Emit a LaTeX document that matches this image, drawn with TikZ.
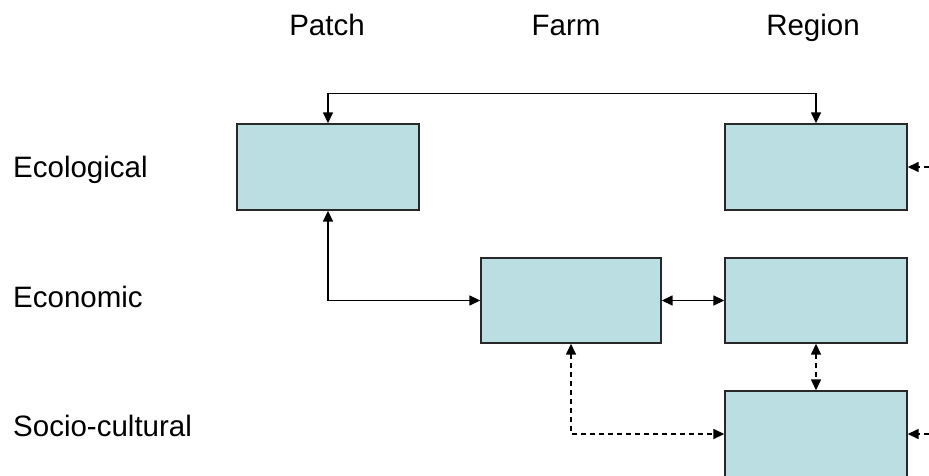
\documentclass[tikz,border=0pt]{standalone}
\usepackage{fontspec}
\setmainfont{Liberation Sans}
\usetikzlibrary{arrows.meta}
\definecolor{boxfill}{RGB}{186,222,226}
\definecolor{boxline}{RGB}{40,40,40}
\begin{document}
\begin{tikzpicture}[x=1pt,y=-1pt,
  box/.style={draw=boxline,fill=boxfill,line width=1.4pt,minimum width=182pt,minimum height=86pt,inner sep=0pt},
  lbl/.style={font=\fontsize{29.5}{35}\selectfont,inner sep=0pt},
  conn/.style={line width=1.5pt,{Triangle[length=11pt,width=10pt]}-{Triangle[length=11pt,width=10pt]}},
  dconn/.style={conn,dash pattern=on 5pt off 4pt},
  inarrow/.style={line width=1.5pt,dash pattern=on 5pt off 4pt,-{Triangle[length=11pt,width=10pt]}}]
\useasboundingbox (0,0) rectangle (929,476);
\fill[white] (0,0) rectangle (929,476);
% column headers
\node[lbl,anchor=base] (hP) at (327,36) {Patch};
\node[lbl,anchor=base] (hF) at (566,36) {Farm};
\node[lbl,anchor=base] (hR) at (813,36) {Region};
% row labels
\node[lbl,anchor=base west] (rE) at (13,178) {Ecological};
\node[lbl,anchor=base west] (rC) at (13,307) {Economic};
\node[lbl,anchor=base west] (rS) at (13,436) {Socio-cultural};
% boxes
\node[box] (P) at (328,167) {};
\node[box] (ER) at (816,167) {};
\node[box,minimum width=180pt,minimum height=85pt] (F) at (571,300.5) {};
\node[box,minimum height=85pt] (R) at (816,300.5) {};
\node[box] (S) at (816,434) {};
% free ends at the right edge
\coordinate (inE) at (929,167);
\coordinate (inS) at (929,434);
% connectors
\draw[conn] (P.north) -- ++(0,-30) -| (ER.north);
\draw[conn] (P.south) |- (F.west);
\draw[conn] (F.east) -- (R.west);
\draw[dconn] (R.south) -- (S.north);
\draw[dconn] (F.south) |- (S.west);
\draw[inarrow] (inE) -- (ER.east);
\draw[inarrow] (inS) -- (S.east);
\end{tikzpicture}
\end{document}
